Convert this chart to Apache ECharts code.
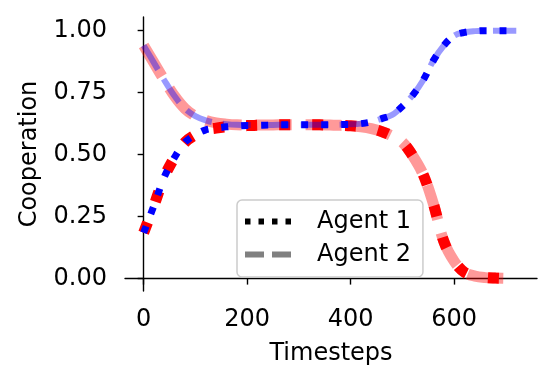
<!DOCTYPE html>
<html><head><meta charset="utf-8">
<script src="https://cdn.jsdelivr.net/npm/echarts@6/dist/echarts.min.js"></script>
<style>html,body{margin:0;padding:0;background:#fff}#c{width:553px;height:385px}</style>
</head><body><div id="c"></div>
<script>
const timesteps = [0,20,40,60,80,100,120,140,160,180,200,220,240,260,280,300,320,340,360,380,400,420,440,460,480,500,520,540,560,580,600,620,640,660,680,700,720];
// Red run
const redAgent1 = [0.185,0.295,0.41,0.49,0.55,0.58,0.60,0.607,0.612,0.615,0.617,0.618,0.619,0.62,0.62,0.62,0.62,0.62,0.619,0.618,0.616,0.612,0.605,0.593,0.575,0.55,0.495,0.42,0.30,0.15,0.07,0.025,0.01,0.004,0.002,0.001,0.0];
const redAgent2 = [0.94,0.87,0.80,0.735,0.685,0.655,0.638,0.628,0.623,0.62,0.619,0.619,0.619,0.62,0.62,0.62,0.62,0.62,0.619,0.618,0.616,0.612,0.605,0.593,0.575,0.55,0.495,0.42,0.30,0.15,0.07,0.025,0.01,0.004,0.002,0.001,0.0];
// Blue run
const blueAgent1 = [0.185,0.295,0.41,0.49,0.55,0.58,0.60,0.607,0.612,0.615,0.617,0.618,0.619,0.62,0.62,0.62,0.62,0.62,0.62,0.621,0.622,0.625,0.632,0.645,0.66,0.695,0.74,0.80,0.88,0.94,0.98,0.993,0.998,1.0,1.0,1.0,1.0];
const blueAgent2 = [0.94,0.87,0.80,0.735,0.685,0.655,0.638,0.628,0.623,0.62,0.619,0.619,0.619,0.62,0.62,0.62,0.62,0.62,0.62,0.621,0.622,0.625,0.632,0.645,0.66,0.695,0.74,0.80,0.88,0.94,0.98,0.993,0.998,1.0,1.0,1.0,1.0];
const xTicks = [0,200,400,600];
const yTicks = [0,0.25,0.5,0.75,1.0];
const legendNames = ['Agent 1','Agent 2'];

const pair = (xs, ys) => xs.map((x,i)=>[x, ys[i]]);
const font = 'DejaVu Sans';
const FS = 24;
const chart = echarts.init(document.getElementById('c'), null, {renderer:'canvas'});
const base = {type:'line', showSymbol:false, symbol:'none', smooth:0.35, animation:false, silent:true, legendHoverLink:false};
chart.setOption({
  animation:false,
  backgroundColor:'#ffffff',
  grid:{left:125, right:16, top:17, bottom:94, containLabel:false},
  legend:{
    orient:'vertical', left:237, top:200,
    data:[
      {name:legendNames[0], icon:'path://M0,0h5.5v6h-5.5z M13.5,0h5.5v6h-5.5z M27,0h5.5v6h-5.5z M40.5,0h5.5v6h-5.5z', itemStyle:{color:'#000'}},
      {name:legendNames[1], icon:'path://M0,0h19v6h-19z M27,0h19v6h-19z', itemStyle:{color:'#808080'}}
    ],
    backgroundColor:'rgba(255,255,255,0.85)', borderColor:'#cccccc', borderWidth:1.5, borderRadius:5,
    padding:[8,12,9,8], itemGap:6, itemWidth:46, itemHeight:6, symbolKeepAspect:false,
    textStyle:{fontFamily:font, fontSize:FS, color:'#000', lineHeight:27, padding:[0,0,0,21]}
  },
  xAxis:{
    type:'value', min:-36, max:760,
    name:'Timesteps', nameLocation:'middle', nameGap:51,
    nameTextStyle:{fontFamily:font, fontSize:FS, color:'#000'},
    axisLine:{show:true, lineStyle:{color:'#000', width:1.4}},
    axisTick:{show:true, length:6, inside:false, customValues:xTicks, lineStyle:{color:'#000', width:1.4}},
    axisLabel:{customValues:xTicks, fontFamily:font, fontSize:FS, color:'#000', margin:17},
    splitLine:{show:false}
  },
  yAxis:{
    type:'value', min:-0.05, max:1.055,
    name:'Cooperation', nameLocation:'middle', nameGap:83, nameRotate:90,
    nameTextStyle:{fontFamily:font, fontSize:FS, color:'#000'},
    axisLine:{show:true, lineStyle:{color:'#000', width:1.4}},
    axisTick:{show:true, length:6, inside:false, customValues:yTicks, lineStyle:{color:'#000', width:1.4}},
    axisLabel:{customValues:yTicks, fontFamily:font, fontSize:FS, color:'#000', margin:18,
      formatter:v=>v.toFixed(2)},
    splitLine:{show:false}
  },
  series:[
    Object.assign({}, base, {name:'redA2', data:pair(timesteps, redAgent2), z:1,
      lineStyle:{color:'rgba(255,0,0,0.4)', width:11, type:[36,14], cap:'butt'}}),
    Object.assign({}, base, {name:'redA1', data:pair(timesteps, redAgent1), z:2,
      lineStyle:{color:'#ff0000', width:11, type:[11,22], cap:'butt'}}),
    Object.assign({}, base, {name:'blueA2', data:pair(timesteps, blueAgent2), z:3,
      lineStyle:{color:'rgba(0,0,255,0.4)', width:6, type:[28,11], cap:'butt'}}),
    Object.assign({}, base, {name:'blueA1', data:pair(timesteps, blueAgent1), z:4,
      lineStyle:{color:'#0000ff', width:7, type:[7,13], cap:'butt'}}),
    Object.assign({}, base, {name:'Agent 1', data:[], color:'#000', lineStyle:{color:'#000', width:0}}),
    Object.assign({}, base, {name:'Agent 2', data:[], color:'#808080', lineStyle:{color:'#808080', width:0}})
  ]
});
</script></body></html>
